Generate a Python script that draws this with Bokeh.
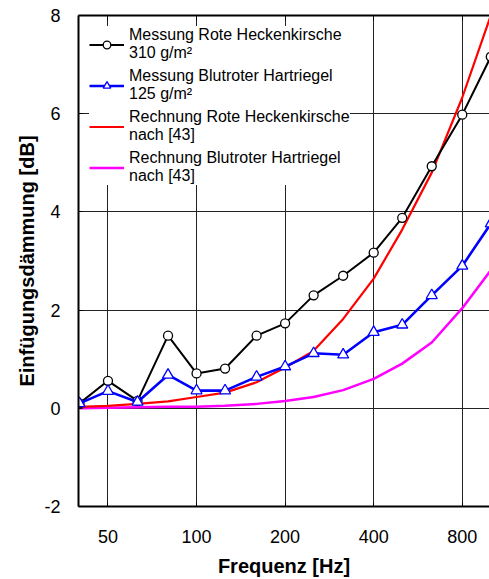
from bokeh.plotting import figure
from bokeh.models import Range1d, FixedTicker, LogAxis, Legend, LegendItem
from bokeh.embed import file_html
from bokeh.resources import INLINE

# 1/3-octave band centre frequencies [Hz]
freq = [40, 50, 63, 80, 100, 125, 160, 200, 250, 315, 400, 500, 630, 800, 1000]

# Insertion loss [dB]
mess_rote_heckenkirsche = [0.10, 0.56, 0.15, 1.48, 0.71, 0.81, 1.48, 1.73, 2.30, 2.70, 3.17, 3.88, 4.93, 5.98, 7.16]
mess_blutroter_hartriegel = [0.10, 0.35, 0.13, 0.68, 0.36, 0.36, 0.64, 0.85, 1.12, 1.09, 1.55, 1.70, 2.30, 2.90, 3.76]
rech_rote_heckenkirsche = [0.03, 0.05, 0.09, 0.14, 0.23, 0.32, 0.53, 0.83, 1.17, 1.82, 2.64, 3.64, 4.80, 6.33, 8.00]
rech_blutroter_hartriegel = [0.00, 0.01, 0.02, 0.03, 0.03, 0.05, 0.09, 0.15, 0.23, 0.37, 0.60, 0.91, 1.34, 2.04, 2.81]

labels = [
    "Messung Rote Heckenkirsche\n310 g/m²",
    "Messung Blutroter Hartriegel\n125 g/m²",
    "Rechnung Rote Heckenkirsche\nnach [43]",
    "Rechnung Blutroter Hartriegel\nnach [43]",
]

x_ticks = [50, 100, 200, 400, 800]
x_tick_labels = ["50", "100", "200", "400", "800"]
y_ticks = [-2, 0, 2, 4, 6, 8]
y_tick_labels = ["-2", "0", "2", "4", "6", "8"]
y_min, y_max = -2, 8

FONT = "Liberation Sans"

p = figure(width=489, height=579, x_axis_type="log",
           x_range=Range1d(39.7, 990), y_range=Range1d(y_min, y_max),
           output_backend="svg", toolbar_location=None,
           min_border_left=78, min_border_top=15, min_border_bottom=73,
           min_border_right=0)
p.outline_line_color = None
p.background_fill_color = "white"
p.border_fill_color = "white"

# grid
p.xgrid.ticker = FixedTicker(ticks=x_ticks)
p.ygrid.ticker = FixedTicker(ticks=y_ticks)
for g in (p.xgrid, p.ygrid):
    g.grid_line_color = "#222222"
    g.grid_line_width = 1
    g.grid_line_alpha = 1

# x axis
xa = p.xaxis[0]
xa.ticker = FixedTicker(ticks=x_ticks)
xa.major_label_overrides = {t: l for t, l in zip(x_ticks, x_tick_labels)}
xa.axis_label = "Frequenz [Hz]"
# y axis
ya = p.yaxis[0]
ya.ticker = FixedTicker(ticks=y_ticks)
ya.major_label_overrides = {t: l for t, l in zip(y_ticks, y_tick_labels)}
ya.axis_label = "Einfügungsdämmung [dB]"

for ax in (xa, ya):
    ax.axis_line_width = 2
    ax.axis_line_color = "black"
    ax.major_tick_in = 4
    ax.major_tick_out = 0
    ax.major_tick_line_color = "black"
    ax.minor_tick_line_color = None
    ax.major_label_text_font = FONT
    ax.major_label_text_font_size = "18px"
    ax.major_label_text_color = "black"
    ax.axis_label_text_font = FONT
    ax.axis_label_text_font_size = "20px"
    ax.axis_label_text_font_style = "bold"
    ax.axis_label_text_color = "black"
xa.major_label_standoff = 23
xa.axis_label_standoff = 9
ya.major_label_standoff = 18
ya.axis_label_standoff = 3

# top frame line with inner ticks
top = LogAxis(ticker=FixedTicker(ticks=x_ticks), axis_line_width=2,
              axis_line_color="black", major_tick_in=5, major_tick_out=0,
              major_tick_line_color="black", minor_tick_line_color=None,
              major_label_text_color=None)
p.add_layout(top, "above")

# series
r_mag = p.line(freq, rech_blutroter_hartriegel, line_color="#ff00ff", line_width=2.5)
r_red = p.line(freq, rech_rote_heckenkirsche, line_color="#ff0000", line_width=2.2)
r_blk = p.line(freq, mess_rote_heckenkirsche, line_color="black", line_width=2)
r_blk_m = p.scatter(freq, mess_rote_heckenkirsche, marker="circle", size=9,
                    fill_color="white", line_color="black", line_width=1.3)
r_blu = p.line(freq, mess_blutroter_hartriegel, line_color="#0000ff", line_width=2.6)
r_blu_m = p.scatter(freq, mess_blutroter_hartriegel, marker="triangle", size=11,
                    fill_color="white", line_color="#0000ff", line_width=1.3)

legend = Legend(items=[
    LegendItem(label=labels[0], renderers=[r_blk, r_blk_m]),
    LegendItem(label=labels[1], renderers=[r_blu, r_blu_m]),
    LegendItem(label=labels[2], renderers=[r_red]),
    LegendItem(label=labels[3], renderers=[r_mag]),
], location="top_left")
legend.border_line_color = None
legend.background_fill_color = "white"
legend.background_fill_alpha = 1
legend.label_text_font = FONT
legend.label_text_font_size = "16px"
legend.label_text_line_height = 1.2
legend.label_text_color = "black"
legend.glyph_width = 35
legend.glyph_height = 19
legend.label_standoff = 5
legend.spacing = 5
legend.padding = 7
legend.margin = 11
p.add_layout(legend)

open("out.html", "w").write(file_html(p, INLINE))
